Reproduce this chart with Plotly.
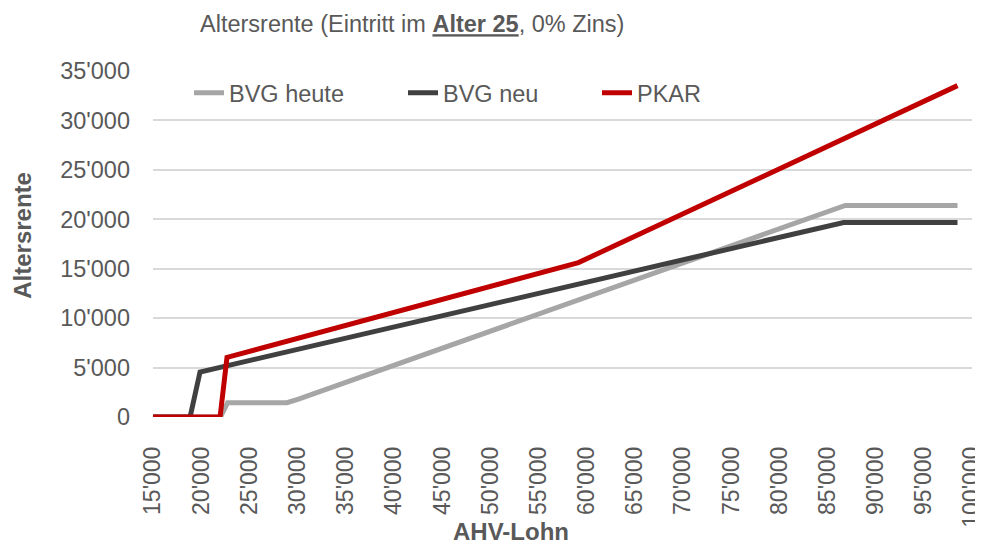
import plotly.graph_objects as go

# ---- data ----
x_heute = [15000, 22000, 22750, 28900, 30100, 86850, 98500]
y_heute = [0, 0, 1450, 1450, 1800, 21400, 21400]

x_neu = [15000, 18850, 19880, 86680, 98500]
y_neu = [0, 0, 4550, 19680, 19680]

x_pkar = [15000, 21960, 22680, 59160, 98500]
y_pkar = [0, 0, 6030, 15620, 33520]

series_names = ["BVG heute", "BVG neu", "PKAR"]
series_colors = ["#A6A6A6", "#404040", "#C00000"]

x_ticks = list(range(15000, 100001, 5000))
x_ticktext = [f"{v:,}".replace(",", "'") for v in x_ticks]
y_ticks = list(range(0, 35001, 5000))
y_ticktext = [f"{v:,}".replace(",", "'") for v in y_ticks]

FONT = "Liberation Sans, Arial, sans-serif"
TXT = "#595959"

# page body adds an 8px offset; compensate
OFF = 8
W, H = 983, 544 - OFF
PL, PT = 153 - OFF, 71 - OFF
PW, PH = 819, 346.5

fig = go.Figure()
legend_widths = [169, 149, 80]
for xs, ys, name, col, lw in zip([x_heute, x_neu, x_pkar], [y_heute, y_neu, y_pkar],
                                 series_names, series_colors, legend_widths):
    fig.add_trace(go.Scatter(x=xs, y=ys, mode="lines", name=name,
                             line=dict(color=col, width=5), legendwidth=lw))

fig.update_layout(
    width=W, height=H,
    margin=dict(l=PL, r=W - PL - PW, t=PT, b=H - PT - PH, autoexpand=False),
    paper_bgcolor="white", plot_bgcolor="white",
    font=dict(family=FONT, size=24, color=TXT),
    title=dict(text="Altersrente (Eintritt im <b><u>Alter 25</u></b>, 0% Zins)",
               x=(200 - OFF) / W, xanchor="left", xref="container",
               y=1 - (24 - OFF) / H, yanchor="middle", yref="container",
               font=dict(family=FONT, size=23.5, color=TXT)),
    showlegend=True,
    legend=dict(orientation="h", x=(189 - 153) / PW, xanchor="left",
                y=1 - (93 - 71) / PH, yanchor="middle",
                bgcolor="rgba(0,0,0,0)", itemwidth=30,
                font=dict(family=FONT, size=23.5, color=TXT)),
    xaxis=dict(range=[15000, 100005], tickmode="array", tickvals=x_ticks,
               ticktext=x_ticktext, tickangle=-90, showgrid=False,
               zeroline=False, showline=False, ticks="",
               ticklabelstandoff=24, automargin=False,
               ticklabeloverflow="allow",
               tickfont=dict(family=FONT, size=23, color=TXT)),
    yaxis=dict(range=[0, 35000], tickmode="array", tickvals=y_ticks,
               ticktext=y_ticktext, showgrid=True, gridcolor="#D9D9D9",
               gridwidth=1.5, zeroline=False, showline=False, ticks="",
               ticklabelstandoff=22, automargin=False,
               tickfont=dict(family=FONT, size=23.5, color=TXT)),
    annotations=[
        dict(text="<b>Altersrente</b>", xref="paper", yref="paper",
             x=-(153 - 23) / PW, y=1 - (236 - 71) / PH, textangle=-90,
             showarrow=False, xanchor="center", yanchor="middle",
             font=dict(family=FONT, size=24, color=TXT)),
        dict(text="<b>AHV-Lohn</b>", xref="paper", yref="paper",
             x=(511 - 153) / PW, y=-(532 - 417.5) / PH,
             showarrow=False, xanchor="center", yanchor="middle",
             font=dict(family=FONT, size=24, color=TXT)),
    ],
)

fig.write_html("out.html")
